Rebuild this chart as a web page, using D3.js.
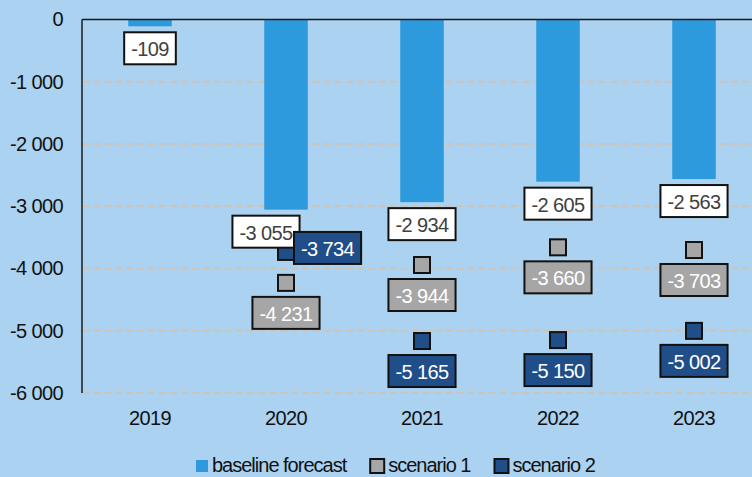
<!DOCTYPE html>
<html lang="en">
<head>
  <meta charset="UTF-8">
  <title>Baseline forecast and scenarios</title>
  <script src="https://d3js.org/d3.v7.min.js"></script>
  <style>
    html, body {
      margin: 0;
      padding: 0;
      background-color: #abd2f0;
    }
    svg text {
      font-family: "Liberation Sans", Arial, sans-serif;
      font-size: 20px;
      letter-spacing: -0.6px;
    }
    svg .legend text {
      letter-spacing: -1px;
    }
  </style>
</head>
<body>
<div id="chart"></div>

<script>
  const years = ["2019", "2020", "2021", "2022", "2023"];
  const baseline = [-109, -3055, -2934, -2605, -2563];
  const scenario1 = [null, -4231, -3944, -3660, -3703];
  const scenario2 = [null, -3734, -5165, -5150, -5002];
  const yTicks = [0, -1000, -2000, -3000, -4000, -5000, -6000];

  const width = 752, height = 477;
  const plot = { left: 82, right: 762, top: 19.5, bottom: 393 };

  const colors = {
    bg: "#abd2f0",
    bar: "#2e9ade",
    s1: "#a6a6a6",
    s2: "#1f4e89",
    grid: "#cfc3b6"
  };

  // number format with a space as thousands separator
  const locale = d3.formatLocale({ decimal: ",", thousands: " ", grouping: [3], currency: ["", ""], minus: "-" });
  const fmt = locale.format(",d");

  const svg = d3.select("#chart")
    .append("svg")
    .attr("width", width)
    .attr("height", height);

  const x = d3.scaleBand()
    .domain(years)
    .range([plot.left, plot.right]);

  const y = d3.scaleLinear()
    .domain([-6000, 0])
    .range([plot.bottom, plot.top]);

  // gridlines
  svg.append("g")
    .selectAll("line")
    .data(yTicks.filter(d => d !== 0))
    .join("line")
    .attr("x1", plot.left)
    .attr("x2", width)
    .attr("y1", d => y(d))
    .attr("y2", d => y(d))
    .attr("stroke", colors.grid)
    .attr("stroke-width", 2)
    .attr("stroke-dasharray", "7,4");

  // y axis labels
  const yAxis = d3.axisLeft(y)
    .tickValues(yTicks)
    .tickFormat(fmt)
    .tickSize(0)
    .tickPadding(19);

  svg.append("g")
    .attr("transform", `translate(${plot.left},0)`)
    .call(yAxis)
    .call(g => g.select(".domain").remove())
    .call(g => g.selectAll("text").attr("fill", "#111"));

  // x axis labels (below the plot)
  const xAxis = d3.axisBottom(x).tickSize(0).tickPadding(18);
  svg.append("g")
    .attr("transform", `translate(0,${plot.bottom})`)
    .call(xAxis)
    .call(g => g.select(".domain").remove())
    .call(g => g.selectAll("text").attr("fill", "#111"));

  // bars
  const barW = x.bandwidth() * 0.32;
  svg.append("g")
    .selectAll("rect")
    .data(years)
    .join("rect")
    .attr("x", d => x(d) + (x.bandwidth() - barW) / 2)
    .attr("y", y(0))
    .attr("width", barW)
    .attr("height", (d, i) => y(baseline[i]) - y(0))
    .attr("fill", colors.bar);

  // axis lines
  svg.append("line")
    .attr("x1", plot.left).attr("x2", width)
    .attr("y1", y(0)).attr("y2", y(0))
    .attr("stroke", "#1a1a1a").attr("stroke-width", 1.5);
  svg.append("line")
    .attr("x1", plot.left).attr("x2", plot.left)
    .attr("y1", y(0)).attr("y2", plot.bottom)
    .attr("stroke", "#1a1a1a").attr("stroke-width", 1.5);

  const cx = d => x(d) + x.bandwidth() / 2;

  // scenario markers
  const mk = 16;
  [[scenario1, colors.s1], [scenario2, colors.s2]].forEach(([vals, fill]) => {
    svg.append("g")
      .selectAll("rect")
      .data(years.map((yr, i) => ({ yr, v: vals[i] })).filter(d => d.v !== null))
      .join("rect")
      .attr("x", d => cx(d.yr) - mk / 2)
      .attr("y", d => y(d.v) - mk / 2)
      .attr("width", mk)
      .attr("height", mk)
      .attr("fill", fill)
      .attr("stroke", "#111")
      .attr("stroke-width", 2);
  });

  // data labels in boxes
  const labels = svg.append("g");
  const boxH = 32, padX = 7;

  function addLabel(value, px, py, anchor, fill, textColor) {
    // anchor: "top" => box top at py, centred on px ; "left" => box left at px, centred on py
    const g = labels.append("g");
    const t = g.append("text")
      .text(fmt(value))
      .attr("fill", textColor)
      .attr("text-anchor", "middle")
      .attr("dy", "0.35em");
    const w = t.node().getComputedTextLength() + padX * 2;
    let bx, by;
    if (anchor === "left") { bx = px; by = py - boxH / 2; }
    else { bx = px - w / 2; by = py; }
    g.insert("rect", "text")
      .attr("x", bx).attr("y", by)
      .attr("width", w).attr("height", boxH)
      .attr("fill", fill)
      .attr("stroke", "#111")
      .attr("stroke-width", 2);
    t.attr("x", bx + w / 2).attr("y", by + boxH / 2 + 1);
  }

  years.forEach((yr, i) => {
    // baseline label just under the bar end (2020 nudged left)
    const shift = yr === "2020" ? -20 : 0;
    addLabel(baseline[i], cx(yr) + shift, y(baseline[i]) + 6, "top", "#ffffff", "#404040");

    if (scenario1[i] !== null) {
      addLabel(scenario1[i], cx(yr), y(scenario1[i]) + 14, "top", colors.s1, "#ffffff");
    }
    if (scenario2[i] !== null) {
      if (yr === "2020") {
        addLabel(scenario2[i], cx(yr) + mk / 2, y(scenario2[i]) - 4, "left", colors.s2, "#ffffff");
      } else {
        addLabel(scenario2[i], cx(yr), y(scenario2[i]) + 14, "top", colors.s2, "#ffffff");
      }
    }
  });

  // legend
  const legendItems = [
    { name: "baseline forecast", fill: colors.bar, size: 12, stroke: null },
    { name: "scenario 1", fill: colors.s1, size: 14, stroke: "#111" },
    { name: "scenario 2", fill: colors.s2, size: 14, stroke: "#111" }
  ];
  const legend = svg.append("g").attr("class", "legend");
  let lx = 196;
  const ly = 466;
  legendItems.forEach(item => {
    const g = legend.append("g");
    g.append("rect")
      .attr("x", lx)
      .attr("y", ly - item.size / 2)
      .attr("width", item.size)
      .attr("height", item.size)
      .attr("fill", item.fill)
      .attr("stroke", item.stroke)
      .attr("stroke-width", item.stroke ? 2 : 0);
    const t = g.append("text")
      .attr("x", lx + item.size + 4)
      .attr("y", ly + 6)
      .attr("fill", "#111")
      .text(item.name);
    lx += item.size + 4 + t.node().getComputedTextLength() + 24;
  });
</script>
</body>
</html>
